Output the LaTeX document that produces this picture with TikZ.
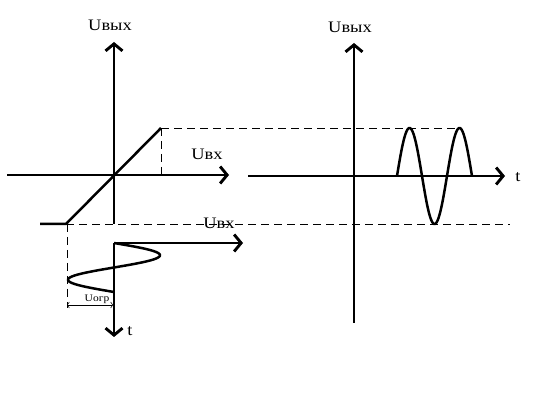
\documentclass[tikz,border=0pt]{standalone}
\usepackage{fontspec}
\setmainfont{Liberation Serif}
\newfontfamily\lblfont[FakeStretch=1.15]{Liberation Serif}
\usetikzlibrary{arrows.meta}

\begin{document}
\begin{tikzpicture}[
  x=1pt, y=-1pt,
  %% axes with open arrow heads
  axis/.style={line width=2.9pt, -{Straight Barb[length=7pt,width=17pt]}},
  %% signal curves
  curve/.style={line width=2.5pt, line join=round},
  %% guide lines
  guide/.style={line width=0.7pt, dash pattern=on 8pt off 5pt},
  %% dimension line
  dim/.style={line width=0.5pt,
    {Straight Barb[length=2pt,width=6pt]}-{Straight Barb[length=2pt,width=6pt]}},
  %% labels
  lbl/.style={anchor=base, inner sep=0pt, font=\lblfont\fontsize{16}{18}\selectfont},
  small/.style={anchor=base, inner sep=0pt, font=\lblfont\fontsize{10}{12}\selectfont}
]

\useasboundingbox (0,0) rectangle (538,411);

%% ================================================================
%% TRANSFER CHARACTERISTIC (upper left)
%% ================================================================
\coordinate (lo)   at (114,175);
\coordinate (lxa)  at (7,175);
\coordinate (lxb)  at (229,175);
\coordinate (lya)  at (114,224);
\coordinate (lyb)  at (114,42);

\draw[axis] (lxa) -- (lxb);
\draw[axis] (lya) -- (lyb);

\node[lbl] (uout1) at (110,31) {Uвых};
\node[lbl] (uin1)  at (207,160) {Uвх};

%% limiting characteristic
\coordinate (sat0) at (40,224);
\coordinate (satl) at (66,224);
\coordinate (satr) at (161,128);
\coordinate (satx) at (161,175);

\draw[curve] (sat0) -- (satl) -- (satr);
\draw[guide] (satr) -- (satx);

%% ================================================================
%% INPUT SIGNAL (lower left, time runs down)
%% ================================================================
\coordinate (io)  at (114,243);
\coordinate (ixb) at (243,243);
\coordinate (iyb) at (114,337);

\draw[axis] (io) -- (ixb);
\draw[axis] (io) -- (iyb);

\draw[curve] plot[domain=0:1, samples=80, variable=\s]
  ({114+46*sin(360*\s)}, {243+49*\s});

\node[lbl] (uin2) at (219,229) {Uвх};
\node[lbl] (t1)   at (130,336) {t};

%% limit level marker
\coordinate (lim0) at (67,224);
\coordinate (lim1) at (67,308);
\coordinate (dima) at (67,305);
\coordinate (dimb) at (113,305);

\draw[guide] (lim0) -- (lim1);
\draw[dim] (dima) -- (dimb);
\node[small] (ulim) at (97,302) {Uогр};

%% ================================================================
%% OUTPUT SIGNAL (right)
%% ================================================================
\coordinate (ro)  at (354,176);
\coordinate (rxa) at (248,176);
\coordinate (rxb) at (505,176);
\coordinate (rya) at (354,323);
\coordinate (ryb) at (354,43);

\draw[axis] (rxa) -- (rxb);
\draw[axis] (rya) -- (ryb);

\draw[curve] plot[domain=0:1.5, samples=100, variable=\s]
  ({397+50*\s}, {176-48*sin(360*\s)});

\node[lbl] (uout2) at (350,33) {Uвых};
\node[lbl] (t2)    at (518,182) {t};

%% ================================================================
%% LEVEL GUIDES
%% ================================================================
\coordinate (top1) at (459,128);
\coordinate (bot1) at (510,224);

\draw[guide] (satr) -- (top1);
\draw[guide] (satl) -- (bot1);

\end{tikzpicture}
\end{document}
